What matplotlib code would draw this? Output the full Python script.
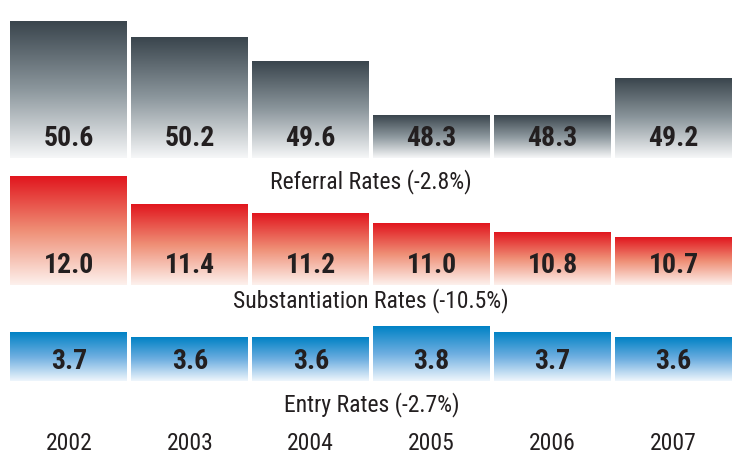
import numpy as np
import matplotlib.pyplot as plt
from matplotlib.colors import LinearSegmentedColormap

plt.rcParams['font.family'] = ['Liberation Sans Narrow', 'Roboto Condensed', 'DejaVu Sans']

# data
years = ['2002', '2003', '2004', '2005', '2006', '2007']
referral = [50.6, 50.2, 49.6, 48.3, 48.3, 49.2]
substantiation = [12.0, 11.4, 11.2, 11.0, 10.8, 10.7]
entry = [3.7, 3.6, 3.6, 3.8, 3.7, 3.6]
titles = ['Referral Rates (-2.8%)', 'Substantiation Rates (-10.5%)', 'Entry Rates (-2.7%)']

W, H = 734, 455
fig = plt.figure(figsize=(W / 100, H / 100), dpi=100)

gray = LinearSegmentedColormap.from_list('g', ['#3a454d', '#8c979d', '#f6f7f8'])
red = LinearSegmentedColormap.from_list('r', ['#e1161e', '#ef8f76', '#fdf1ed'])
blue = LinearSegmentedColormap.from_list('b', ['#0082c5', '#6daee0', '#eff6fc'])

# values, y limits (baseline, top), axes top/bottom in pixels, colormap, title offset
rows = [
    (referral, (47.25, 50.87), (10, 158), gray, 17),
    (substantiation, (9.68, 12.245), (165, 285), red, 11),
    (entry, (2.81, 3.92), (320, 381), blue, 17),
]

grad = np.linspace(0, 1, 256).reshape(-1, 1)
bw = 0.967
txt = '#231f20'

for k, (vals, ylim, (top, bot), cmap, toff) in enumerate(rows):
    ax = fig.add_axes([8.5 / W, 1 - bot / H, (W - 8.5) / W, (bot - top) / H])
    ax.patch.set_visible(False)
    for i, v in enumerate(vals):
        ax.imshow(grad, cmap=cmap, aspect='auto', interpolation='bilinear',
                  extent=(i - bw / 2, i + bw / 2, ylim[0], v))
        ax.annotate(f'{v:.1f}', xy=(i, ylim[0]), xytext=(0, 14), textcoords='offset points',
                    ha='center', va='center', fontsize=20, fontweight='bold', color=txt)
    ax.set_xlim(-0.5, 5.5)
    ax.set_ylim(*ylim)
    ax.annotate(titles[k], xy=(0.5, 0), xycoords='axes fraction', xytext=(0, -toff),
                textcoords='offset points', ha='center', va='center', fontsize=17,
                color=txt, annotation_clip=False)
    for s in ax.spines.values():
        s.set_visible(False)
    ax.set_yticks([])
    if k == 2:
        ax.set_xticks(range(len(years)))
        ax.set_xticklabels(years, fontsize=17, color=txt)
        ax.tick_params(axis='x', length=0, pad=37)
    else:
        ax.set_xticks([])

fig.savefig('out.png', dpi=100)
